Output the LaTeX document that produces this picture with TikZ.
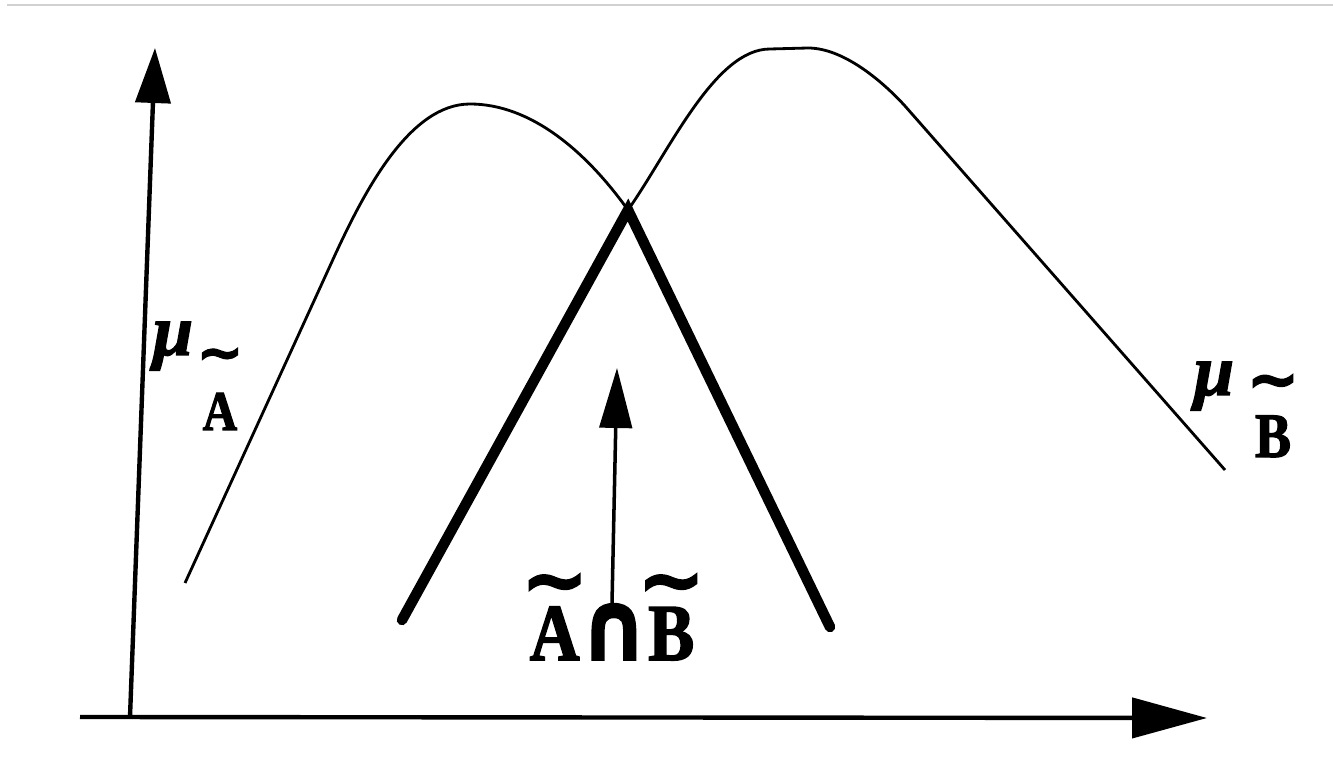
\documentclass[tikz,border=0pt]{standalone}
\usepackage{fontspec}
\usepackage{tikz}
\usetikzlibrary{arrows.meta}
\newfontfamily\heavy{Liberation Serif}[FakeStretch=0.85,BoldFeatures={FakeBold=2}]
\newfontfamily\heavymu{Liberation Serif}[BoldItalicFeatures={FakeBold=2}]
\newfontfamily\signfont{DejaVu Sans}[BoldFeatures={FakeBold=2}]
% tilde set high over a letter
\newcommand\hitilde[2]{\ooalign{#2\cr\hidewidth\raisebox{#1}{{\signfont\bfseries\char"7E}}\hidewidth\cr}}
\newcommand\meetsign{{\signfont\bfseries\scalebox{1.05}[1.2]{∩}}}

\begin{document}
\begin{tikzpicture}[x=0.02cm,y=-0.02cm]
\tikzset{
  axis/.style={line width=2.5pt,-{Triangle[length=1.1cm,width=0.7cm]}},
  member/.style={line width=1.6pt},
  meet/.style={line width=6pt,line cap=round},
  mulab/.style={inner sep=0pt,anchor=base,font=\fontsize{41}{43}\heavymu\bfseries\itshape},
  setlab/.style={inner sep=0pt,anchor=base,font=\heavy\bfseries}
}
\useasboundingbox (0,0) rectangle (1333,780);
\draw[black!18,line width=1.2pt] (7,5) -- (1333,5);
% axes
\coordinate (origin) at (130,717);
\coordinate (ytip) at (155,48);
\coordinate (xstart) at (80,717);
\coordinate (xtip) at (1207,718);
\draw[axis] (origin) -- (ytip);
\draw[axis,-{Triangle[length=1.5cm,width=0.8cm]}] (xstart) -- (xtip);
% the two membership curves
\coordinate (cross) at (628,210);
\draw[member] (185,583) -- (335,255) .. controls (365,190) and (410,104) .. (470,104)
  .. controls (530,104) and (585,150) .. (cross);
\draw[member] (cross) .. controls (670,150) and (715,49) .. (770,49)
  -- (808,48) .. controls (845,48) and (885,84) .. (905,106) -- (1225,470);
% intersection
\coordinate (meetL) at (402,620);
\coordinate (meetR) at (830,627);
\draw[meet] (meetL) -- (cross) -- (meetR);
% labels
\node[mulab] (muA) at (173,355) {μ};
\node[setlab,font=\fontsize{32}{34}\heavy\bfseries] (subA) at (220,430) {\hitilde{1.04em}{A}};
\node[mulab] (muB) at (1214,395) {μ};
\node[setlab,font=\fontsize{36}{38}\heavy\bfseries] (subB) at (1273,457) {\hitilde{0.89em}{B}};
\node[setlab,font=\fontsize{46}{50}\heavy\bfseries] (meetlab) at (612,660)
  {\hitilde{0.65em}{A}\meetsign\hitilde{0.65em}{B}};
\coordinate (meettip) at (617,368);
\draw[line width=2pt,shorten <=-0.08cm,-{Triangle[length=1.2cm,width=0.65cm]}] (meetlab.north) -- (meettip);
\end{tikzpicture}
\end{document}
